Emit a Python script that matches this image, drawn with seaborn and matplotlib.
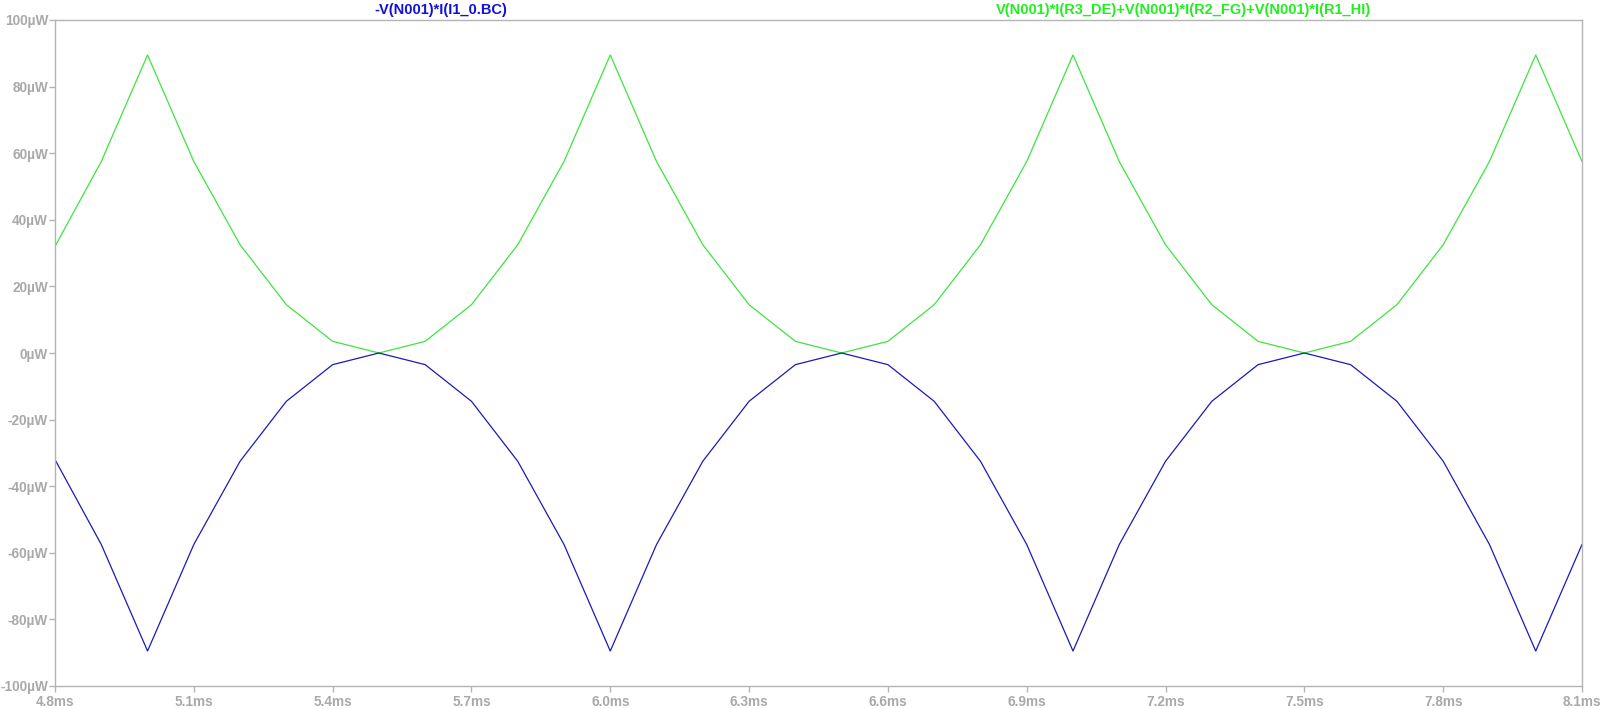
import numpy as np
import pandas as pd
import matplotlib
matplotlib.use('Agg')
import matplotlib.pyplot as plt
import seaborn as sns

# time axis (ms), sampled every 0.1 ms
time_ms = [4.8, 4.9, 5.0, 5.1, 5.2, 5.3, 5.4, 5.5, 5.6, 5.7,
           5.8, 5.9, 6.0, 6.1, 6.2, 6.3, 6.4, 6.5, 6.6, 6.7,
           6.8, 6.9, 7.0, 7.1, 7.2, 7.3, 7.4, 7.5, 7.6, 7.7,
           7.8, 7.9, 8.0, 8.1]

# resistor power sum (µW)
p_res = [32.0, 57.5, 89.5, 57.5, 32.5, 14.5, 3.5, 0.0, 3.5, 14.5,
         32.5, 57.5, 89.5, 57.5, 32.5, 14.5, 3.5, 0.0, 3.5, 14.5,
         32.5, 57.5, 89.5, 57.5, 32.5, 14.5, 3.5, 0.0, 3.5, 14.5,
         32.5, 57.5, 89.5, 57.5]

# source power (µW)
p_src = [-32.0, -57.5, -89.5, -57.5, -32.5, -14.5, -3.5, 0.0, -3.5, -14.5,
         -32.5, -57.5, -89.5, -57.5, -32.5, -14.5, -3.5, 0.0, -3.5, -14.5,
         -32.5, -57.5, -89.5, -57.5, -32.5, -14.5, -3.5, 0.0, -3.5, -14.5,
         -32.5, -57.5, -89.5, -57.5]

label_src = '-V(N001)*I(I1_0.BC)'
label_res = 'V(N001)*I(R3_DE)+V(N001)*I(R2_FG)+V(N001)*I(R1_HI)'

y_ticks = list(range(-100, 101, 20))
x_ticks = [4.8, 5.1, 5.4, 5.7, 6.0, 6.3, 6.6, 6.9, 7.2, 7.5, 7.8, 8.1]

sns.set_style('white')
plt.rcParams['font.family'] = ['Liberation Sans', 'DejaVu Sans']

df = pd.DataFrame({'t': time_ms + time_ms,
                   'p': p_res + p_src,
                   'trace': [label_res] * len(time_ms) + [label_src] * len(time_ms)})

fig = plt.figure(figsize=(16, 7.09), dpi=100)
ax = fig.add_axes([55 / 1600, 1 - 686 / 709, (1582 - 55) / 1600, (686 - 20) / 709])

sns.lineplot(data=df, x='t', y='p', hue='trace',
             palette={label_res: '#3ee43e', label_src: '#1a1ab8'},
             linewidth=0.9, legend=False, ax=ax, estimator=None, sort=False)

ax.set_xlim(4.8, 8.1)
ax.set_ylim(-100, 100)
ax.set_xticks(x_ticks)
ax.set_xticklabels([f'{v:.1f}ms' for v in x_ticks])
ax.set_yticks(y_ticks)
ax.set_yticklabels([f'{v}µW' for v in y_ticks])
ax.set_xlabel('')
ax.set_ylabel('')

grey = '#a9a9a9'
for s in ax.spines.values():
    s.set_color('#b4b4b4')
    s.set_linewidth(1.0)
ax.tick_params(axis='both', bottom=True, left=True, colors='#b4b4b4',
               length=4.5, width=1, direction='out', labelsize=9.8, pad=0.5)
ax.tick_params(axis='x', pad=2)
for lab in ax.get_xticklabels() + ax.get_yticklabels():
    lab.set_fontweight('bold')
    lab.set_color(grey)

fig.text(441 / 1600, 1 - 10 / 709, label_src, color='#1010e0', fontsize=10.5,
         fontweight='bold', ha='center', va='center')
fig.text(1184 / 1600, 1 - 10 / 709, label_res, color='#22ee22', fontsize=10.5,
         fontweight='bold', ha='center', va='center')

fig.savefig('out.png', dpi=100, facecolor='white')
